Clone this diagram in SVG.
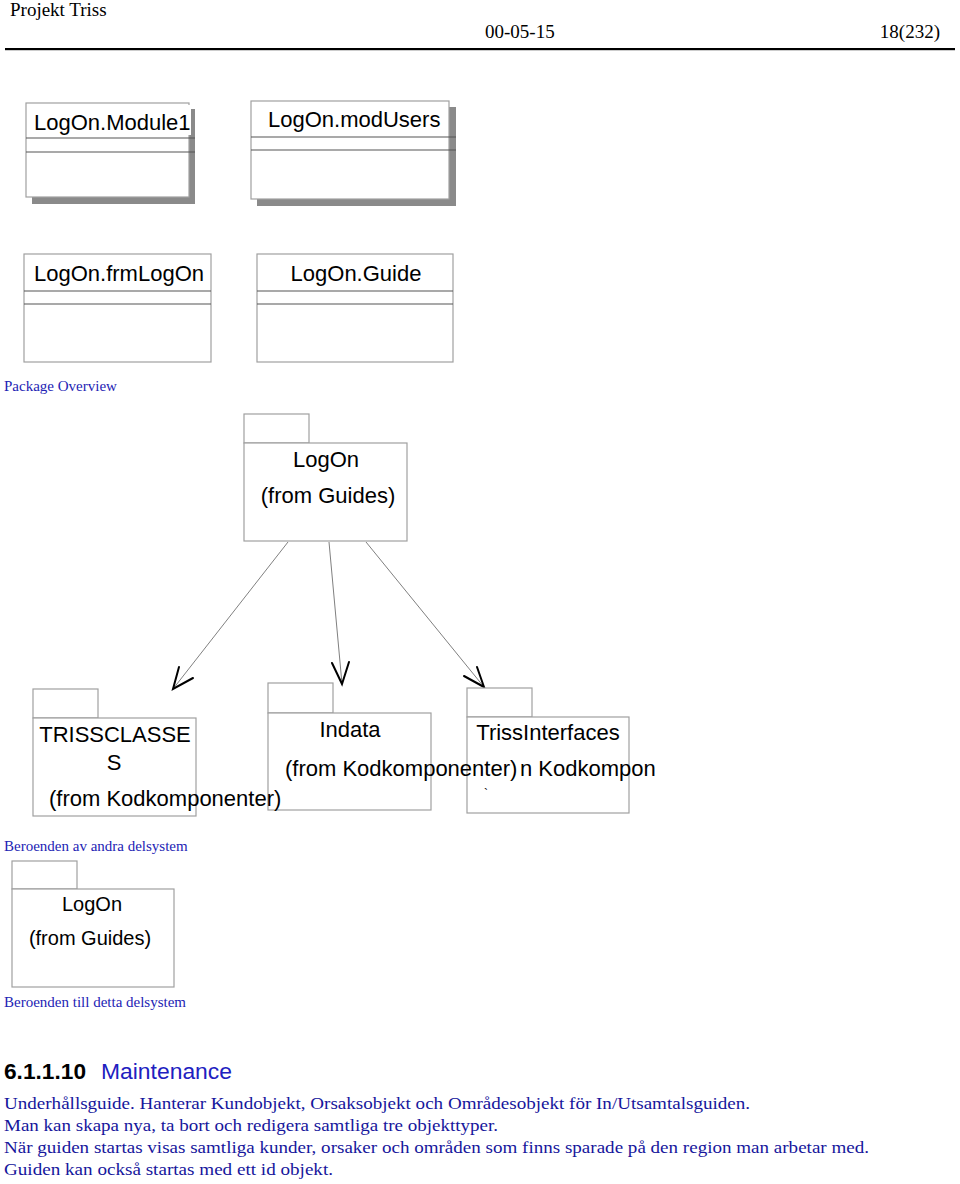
<svg xmlns="http://www.w3.org/2000/svg" width="960" height="1184" viewBox="0 0 960 1184">
<style>
.hdr{font-family:"Liberation Serif",serif;font-size:19px;fill:#000}
.cap{font-family:"Liberation Serif",serif;font-size:15px;fill:#2323b4}
.para{font-family:"Liberation Serif",serif;font-size:17.5px;fill:#16169c}
.lbl{font-family:"Liberation Sans",Arial,sans-serif;font-size:22px;fill:#000}
.lbs{font-family:"Liberation Sans",Arial,sans-serif;font-size:20px;fill:#000}
.box{fill:#fff;stroke:#a0a0a0;stroke-width:1.2}
.sep{stroke:#555;stroke-width:1.2}
.shadow{fill:#8a8a8a}
.conn{stroke:#808080;stroke-width:1;fill:none}
.head{stroke:#000;stroke-width:2;fill:none;stroke-linecap:round}
</style>
<rect width="960" height="1184" fill="#fff"/>
<g id="header">
<text class="hdr" x="10" y="16">Projekt Triss</text>
<text class="hdr" x="485" y="38">00-05-15</text>
<text class="hdr" x="940" y="38" text-anchor="end">18(232)</text>
<rect x="5" y="48" width="950" height="2.2" fill="#000"/>
</g>
<g id="class-module1">
<rect class="shadow" x="32" y="109" width="163" height="95"/>
<rect class="box" x="26" y="103" width="163" height="94"/>
<line class="sep" x1="26" y1="138" x2="195" y2="138"/>
<line class="sep" x1="26" y1="152" x2="195" y2="152"/>
<rect x="187" y="105" width="4" height="30" fill="#fff"/>
<text class="lbl" x="34" y="130">LogOn.Module1</text>
</g>
<g id="class-modusers">
<rect class="shadow" x="257" y="107" width="199" height="99"/>
<rect class="box" x="251" y="101" width="198" height="98"/>
<line class="sep" x1="251" y1="137" x2="456" y2="137"/>
<line class="sep" x1="251" y1="150" x2="456" y2="150"/>
<text class="lbl" x="268" y="127">LogOn.modUsers</text>
</g>
<g id="class-frmlogon">
<rect class="box" x="24" y="254" width="187" height="108"/>
<line class="sep" x1="24" y1="291" x2="211" y2="291"/>
<line class="sep" x1="24" y1="304" x2="211" y2="304"/>
<text class="lbl" x="34" y="281">LogOn.frmLogOn</text>
</g>
<g id="class-guide">
<rect class="box" x="257" y="254" width="196" height="108"/>
<line class="sep" x1="257" y1="291" x2="453" y2="291"/>
<line class="sep" x1="257" y1="304" x2="453" y2="304"/>
<text class="lbl" x="356" y="281" text-anchor="middle">LogOn.Guide</text>
</g>
<text class="cap" x="4" y="391">Package Overview</text>
<g id="pkg-logon">
<rect class="box" x="244" y="414" width="65" height="29"/>
<rect class="box" x="244" y="443" width="163" height="98"/>
<text class="lbl" x="326" y="467" text-anchor="middle">LogOn</text>
<text class="lbl" x="328" y="503" text-anchor="middle">(from Guides)</text>
</g>
<g id="connectors">
<line class="conn" x1="288" y1="542" x2="173" y2="689"/>
<polyline class="head" points="179,667 173,689 193,678"/>
<line class="conn" x1="329" y1="542" x2="342" y2="684"/>
<polyline class="head" points="332,663 342,684 349,662"/>
<line class="conn" x1="366" y1="542" x2="484" y2="687"/>
<polyline class="head" points="464,676 484,687 477,667"/>
</g>
<g id="pkg-trissclasses">
<rect class="box" x="33" y="689" width="65" height="29"/>
<rect class="box" x="33" y="718" width="163" height="98"/>
<text class="lbl" x="115" y="742" text-anchor="middle">TRISSCLASSE</text>
<text class="lbl" x="114" y="770" text-anchor="middle">S</text>
</g>
<g id="pkg-trissinterfaces">
<rect class="box" x="467" y="688" width="65" height="29"/>
<rect class="box" x="467" y="717" width="162" height="96"/>
<text class="lbl" x="548" y="740" text-anchor="middle">TrissInterfaces</text>
<text class="lbl" x="520" y="776">n Kodkompon</text>
<text x="484" y="798" font-family="Liberation Sans,Arial,sans-serif" font-size="12" fill="#000">`</text>
</g>
<g id="pkg-indata">
<rect class="box" x="268" y="683" width="65" height="30"/>
<rect class="box" x="268" y="713" width="163" height="97"/>
<text class="lbl" x="350" y="737" text-anchor="middle">Indata</text>
<text class="lbl" x="285" y="776">(from Kodkomponenter)</text>
</g>
<g id="pkg-trissclasses-from">
<text class="lbl" x="49" y="806">(from Kodkomponenter)</text>
</g>
<text class="cap" x="4" y="851">Beroenden av andra delsystem</text>
<g id="pkg-logon-small">
<rect class="box" x="12" y="861" width="65" height="28"/>
<rect class="box" x="12" y="889" width="162" height="98"/>
<text class="lbs" x="92" y="911" text-anchor="middle">LogOn</text>
<text class="lbs" x="90" y="945" text-anchor="middle">(from Guides)</text>
</g>
<text class="cap" x="4" y="1007">Beroenden till detta delsystem</text>
<g id="section">
<text x="4" y="1079" font-family="Liberation Sans,Arial,sans-serif" font-size="22" font-weight="bold" fill="#000" textLength="82" lengthAdjust="spacingAndGlyphs">6.1.1.10</text>
<text x="101" y="1079" font-family="Liberation Sans,Arial,sans-serif" font-size="22" fill="#2020c0" textLength="131" lengthAdjust="spacingAndGlyphs">Maintenance</text>
<text class="para" x="4" y="1109" textLength="746" lengthAdjust="spacingAndGlyphs">Underhållsguide. Hanterar Kundobjekt, Orsaksobjekt och Områdesobjekt för In/Utsamtalsguiden.</text>
<text class="para" x="4" y="1131" textLength="494" lengthAdjust="spacingAndGlyphs">Man kan skapa nya, ta bort och redigera samtliga tre objekttyper.</text>
<text class="para" x="4" y="1153" textLength="865" lengthAdjust="spacingAndGlyphs">När guiden startas visas samtliga kunder, orsaker och områden som finns sparade på den region man arbetar med.</text>
<text class="para" x="4" y="1175" textLength="329" lengthAdjust="spacingAndGlyphs">Guiden kan också startas med ett id objekt.</text>
</g>
</svg>
